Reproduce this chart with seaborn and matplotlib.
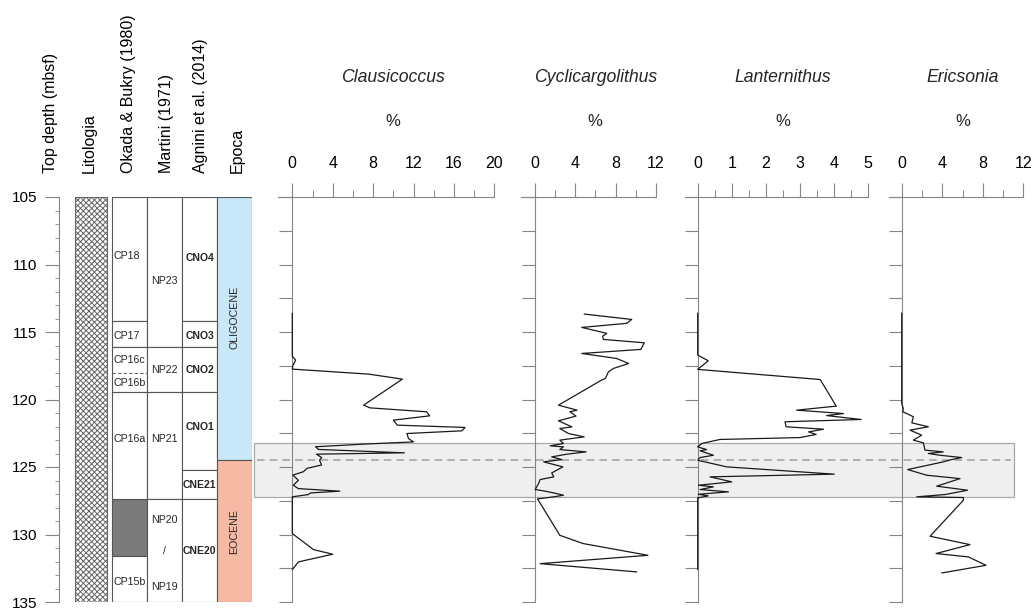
import numpy as np
import pandas as pd
import seaborn as sns
import matplotlib.pyplot as plt
from matplotlib.ticker import MultipleLocator

# ---------------------------------------------------------------- data
# nannofossil abundances (%) against top depth (mbsf)
claus_depth = [113.6, 116.8, 117.08, 117.5, 117.75, 118.12, 118.49, 120.42, 120.62,
               120.91, 121.21, 121.53, 121.9, 122.07, 122.32, 122.52, 122.89, 123.14,
               123.3, 123.5, 123.7, 123.95, 124.05, 124.3, 124.5, 124.85, 125.1, 125.35,
               125.6, 125.98, 126.35, 126.6, 126.79, 126.92, 127.04, 127.21, 129.93,
               131.12, 131.46, 132.03, 132.6]
claus_val = [0, 0, 0.33, 0.05, 0, 7.56, 10.9, 7.06, 7.7,
             13.3, 13.6, 10.0, 10.4, 17.1, 16.8, 11.35, 11.5, 12.0,
             7.2, 2.3, 2.6, 11.1, 2.4, 2.9, 2.7, 2.9, 1.45, 1.1,
             0.05, 0.6, 0.1, 0.6, 4.7, 1.8, 1.6, 0, 0,
             2.1, 4.0, 0.6, 0]

cycli_depth = [113.67, 114.07, 114.36, 114.66, 115.1, 115.3, 115.55, 115.8, 116.29,
               116.59, 116.96, 117.33, 117.7, 117.95, 118.44, 118.57, 120.42, 120.79,
               120.91, 121.23, 121.58, 122.03, 122.15, 122.52, 122.77, 123.01, 123.26,
               123.43, 123.51, 123.71, 123.88, 124.05, 124.25, 124.45, 124.62, 124.99,
               125.44, 125.73, 125.93, 126.22, 126.67, 126.77, 126.92, 127.09, 127.21,
               127.36, 130.06, 130.67, 131.54, 132.16, 132.77]
cycli_val = [4.9, 9.6, 9.1, 4.67, 7.14, 6.74, 6.8, 10.85, 10.5,
             4.67, 8.1, 9.3, 7.8, 7.3, 7.0, 6.6, 2.37, 4.2,
             3.5, 4.1, 2.37, 3.7, 2.5, 3.36, 4.9, 2.5, 2.86,
             1.55, 2.86, 2.5, 5.1, 3.2, 1.7, 2.7, 0.9, 2.8,
             1.7, 1.9, 0.56, 0.4, 0.07, 0.9, 1.9, 2.86, 1.9,
             0.3, 2.5, 4.8, 11.2, 0.56, 10.1]

lant_depth = [113.6, 116.71, 117.13, 117.77, 118.52, 120.49, 120.79, 121.04, 121.19,
              121.48, 121.65, 122.02, 122.2, 122.4, 122.59, 122.82, 122.96, 123.26,
              123.51, 123.71, 123.8, 124.13, 124.3, 124.5, 124.99, 125.53, 125.73,
              126.1, 126.35, 126.47, 126.67, 126.84, 127.02, 127.14, 127.29, 132.6]
lant_val = [0, 0, 0.31, 0, 3.59, 4.06, 2.9, 4.27, 3.78,
            4.79, 2.56, 2.59, 3.69, 3.25, 3.47, 3.0, 0.65, 0.12,
            0, 0.26, 0.07, 0.46, 0.07, 0, 0.85, 4.0, 0.36,
            1.0, 0.02, 0.46, 0.07, 0.9, 0.02, 0.31, 0, 0]

eric_depth = [113.6, 120.3, 120.67, 120.91, 121.04, 121.28, 121.73, 122.02, 122.27,
              122.64, 123.01, 123.21, 123.75, 123.88, 124.0, 124.13, 124.3, 124.45,
              124.62, 125.19, 125.61, 125.86, 126.42, 126.72, 127.04, 127.21, 127.26,
              127.46, 130.13, 130.75, 131.41, 131.66, 132.28, 132.85]
eric_val = [0, 0, 0.16, 0.1, 0.5, 1.15, 1.0, 2.63, 0.82,
            1.97, 1.15, 2.14, 2.3, 4.1, 2.63, 3.78, 5.92, 4.93,
            4.1, 0.59, 2.47, 5.76, 3.45, 6.5, 4.28, 1.48, 6.09,
            6.09, 2.8, 6.74, 3.39, 6.58, 8.32, 3.95]

taxa = ["Clausicoccus", "Cyclicargolithus", "Lanternithus", "Ericsonia"]
taxa_depth = [claus_depth, cycli_depth, lant_depth, eric_depth]
taxa_val = [claus_val, cycli_val, lant_val, eric_val]
taxa_xmax = [20, 12, 5, 12]
taxa_step = [4, 4, 1, 4]

# biostratigraphic zonations (zone tops / bases, mbsf)
okada_top = [105, 114.17, 116.14, 127.34, 131.57, 119.45]
okada_base = [114.17, 116.14, 119.45, 131.57, 135, 127.34]
okada_fill = ["white", "white", "white", "#7b7b7b", "white", "white"]
okada_sub = 118.07  # CP16c / CP16b
okada_labels = ["CP18", "CP17", "CP16c", "CP16b", "CP16a", "CP15b"]
okada_label_depth = [109.4, 115.3, 117.1, 118.8, 122.9, 133.5]

martini_top = [105, 116.14, 119.45, 127.34]
martini_base = [116.14, 119.45, 127.34, 135]
martini_labels = ["NP23", "NP22", "NP21", "NP20", "/", "NP19"]
martini_label_depth = [111.2, 117.8, 122.9, 128.9, 131.2, 133.9]

agnini_top = [105, 114.17, 116.14, 119.45, 125.24, 127.34]
agnini_base = [114.17, 116.14, 119.45, 125.24, 127.34, 135]
agnini_labels = ["CNO4", "CNO3", "CNO2", "CNO1", "CNE21", "CNE20"]
agnini_label_depth = [109.5, 115.3, 117.8, 122.0, 126.35, 131.2]

epoch_top = [105, 124.45]
epoch_base = [124.45, 135]
epoch_fill = ["#c8e8f8", "#f6b9a3"]
epoch_labels = ["OLIGOCENE", "EOCENE"]
epoch_label_depth = [113.9, 129.8]

# highlighted interval around the Eocene/Oligocene transition
band_top, band_base = 123.25, 127.25
eot_depth = 124.45

headers = ["Top depth (mbsf)", "Litologia", "Okada & Bukry (1980)",
           "Martini (1971)", "Agnini et al. (2014)", "Epoca"]

# ---------------------------------------------------------------- layout
W, H = 1034, 610
TOP_PX, BOT_PX = 197, 602
DMIN, DMAX = 105, 135
GRID = "#858585"
EDGE = "#555555"

sns.set_theme(style="white")
plt.rcParams["font.family"] = ["Liberation Sans", "DejaVu Sans"]
plt.rcParams["hatch.linewidth"] = 0.7

fig = plt.figure(figsize=(W / 100, H / 100), dpi=100)
ax_b = (H - BOT_PX) / H
ax_h = (BOT_PX - TOP_PX) / H


def frame(left_px, right_px):
    ax = fig.add_axes([left_px / W, ax_b, (right_px - left_px) / W, ax_h])
    ax.patch.set_alpha(0)
    ax.set_ylim(DMAX, DMIN)
    return ax


# shaded interval behind the curves
ax_bg = frame(0, W)
ax_bg.set_xlim(0, W)
ax_bg.axis("off")
ax_bg.axhspan(band_top, band_base, xmin=254 / W, xmax=1014 / W,
              facecolor="#efefef", edgecolor="#a9a9a9", linewidth=0.9)
ax_bg.hlines(eot_depth, 257, 1011, colors="#a0a0a0", linewidth=1.1,
             linestyles=(0, (5, 3.3)))

# stratigraphic columns
ax_s = frame(59, 252)
ax_s.set_xlim(59, 252)
cols = {"lito": (75, 107), "okada": (112, 147), "martini": (147, 182),
        "agnini": (182, 217), "epoca": (217, 252)}


def column(key, tops, bases, fills):
    x0, x1 = cols[key]
    tops = np.asarray(tops)
    bases = np.asarray(bases)
    ax_s.barh((tops + bases) / 2, x1 - x0, height=bases - tops, left=x0,
              color=fills, edgecolor=EDGE, linewidth=0.8, zorder=2)


x0, x1 = cols["lito"]
ax_s.barh((DMIN + DMAX) / 2, x1 - x0, height=DMAX - DMIN, left=x0,
          facecolor="white", edgecolor="#666666", hatch="xxxxxx", linewidth=0.8)

column("okada", okada_top, okada_base, okada_fill)
ax_s.hlines(okada_sub, *cols["okada"], colors="#666666", linewidth=0.8,
            linestyles=(0, (3, 2)), zorder=3)
column("martini", martini_top, martini_base, ["white"] * len(martini_top))
column("agnini", agnini_top, agnini_base, ["white"] * len(agnini_top))
column("epoca", epoch_top, epoch_base, epoch_fill)

for lab, d in zip(okada_labels, okada_label_depth):
    ax_s.text(cols["okada"][0] + 1.5, d, lab, ha="left", va="center", fontsize=7.7, zorder=4)
for lab, d in zip(martini_labels, martini_label_depth):
    ax_s.text(sum(cols["martini"]) / 2, d, lab, ha="center", va="center", fontsize=7.7, zorder=4)
for lab, d in zip(agnini_labels, agnini_label_depth):
    ax_s.text(sum(cols["agnini"]) / 2, d, lab, ha="center", va="center", fontsize=7.5,
              fontweight="bold", zorder=4)
for lab, d in zip(epoch_labels, epoch_label_depth):
    ax_s.text(sum(cols["epoca"]) / 2, d, lab, ha="center", va="center", fontsize=7.7,
              rotation=90, zorder=4)

# depth axis
for s in ["top", "right", "bottom"]:
    ax_s.spines[s].set_visible(False)
ax_s.spines["left"].set_color(GRID)
ax_s.spines["left"].set_linewidth(0.8)
ax_s.set_xticks([])
ax_s.yaxis.set_major_locator(MultipleLocator(5))
ax_s.yaxis.set_minor_locator(MultipleLocator(1))
ax_s.tick_params(axis="y", which="major", direction="out", length=10, width=0.8,
                 color=GRID, labelsize=11, pad=5.5, labelcolor="black", left=True)
ax_s.tick_params(axis="y", which="minor", direction="out", length=3, width=0.6,
                 color=GRID, left=True)

# column headers
header_x = [51, 89, 129, 166, 201, 237]
for txt, hx in zip(headers, header_x):
    fig.text(hx / W, 1 - 173 / H, txt, rotation=90, ha="center", va="bottom",
             fontsize=11.5, color="black")

# abundance curves
panel_px = [(278.3, 292.3, 494.3), (521, 534.5, 656), (685, 697.7, 868.3), (889, 901.7, 1023.3)]
for name, dep, val, xmax, step, (lp, zp, rp) in zip(taxa, taxa_depth, taxa_val,
                                                    taxa_xmax, taxa_step, panel_px):
    ax = frame(lp, rp)
    df = pd.DataFrame({"pct": val, "depth": dep})
    sns.lineplot(data=df, x="pct", y="depth", sort=False, estimator=None, ax=ax,
                 color="#1a1a1a", linewidth=0.9, zorder=3)
    ax.set_xlim(-xmax * (zp - lp) / (rp - zp), xmax)
    ax.set_ylim(DMAX, DMIN)
    ax.set_xlabel("")
    ax.set_ylabel("")
    for s in ["right", "bottom"]:
        ax.spines[s].set_visible(False)
    for s in ["top", "left"]:
        ax.spines[s].set_color(GRID)
        ax.spines[s].set_linewidth(0.8)
    ax.spines["left"].set_position(("data", 0))
    ax.xaxis.set_ticks_position("top")
    ax.xaxis.set_major_locator(MultipleLocator(step))
    ax.xaxis.set_minor_locator(MultipleLocator(step / 2))
    ax.set_xticks(np.arange(0, xmax + 0.01, step))
    ax.tick_params(axis="x", which="major", direction="out", length=10, width=0.8,
                   color=GRID, labelsize=11.5, pad=8.5, labelcolor="black", top=True)
    ax.tick_params(axis="x", which="minor", direction="out", length=5, width=0.7,
                   color=GRID, top=True)
    ax.yaxis.set_major_locator(MultipleLocator(2.5))
    ax.tick_params(axis="y", which="major", direction="out", length=9.5, width=0.8,
                   color=GRID, labelleft=False, left=True)
    ax.annotate(name, xy=(xmax / 2, 1 - 77 / H), xycoords=("data", "figure fraction"),
                ha="center", va="center", fontsize=12.7, style="italic")
    ax.annotate("%", xy=(xmax / 2, 1 - 121.5 / H), xycoords=("data", "figure fraction"),
                ha="center", va="center", fontsize=12)

fig.savefig("out.png", dpi=100)
